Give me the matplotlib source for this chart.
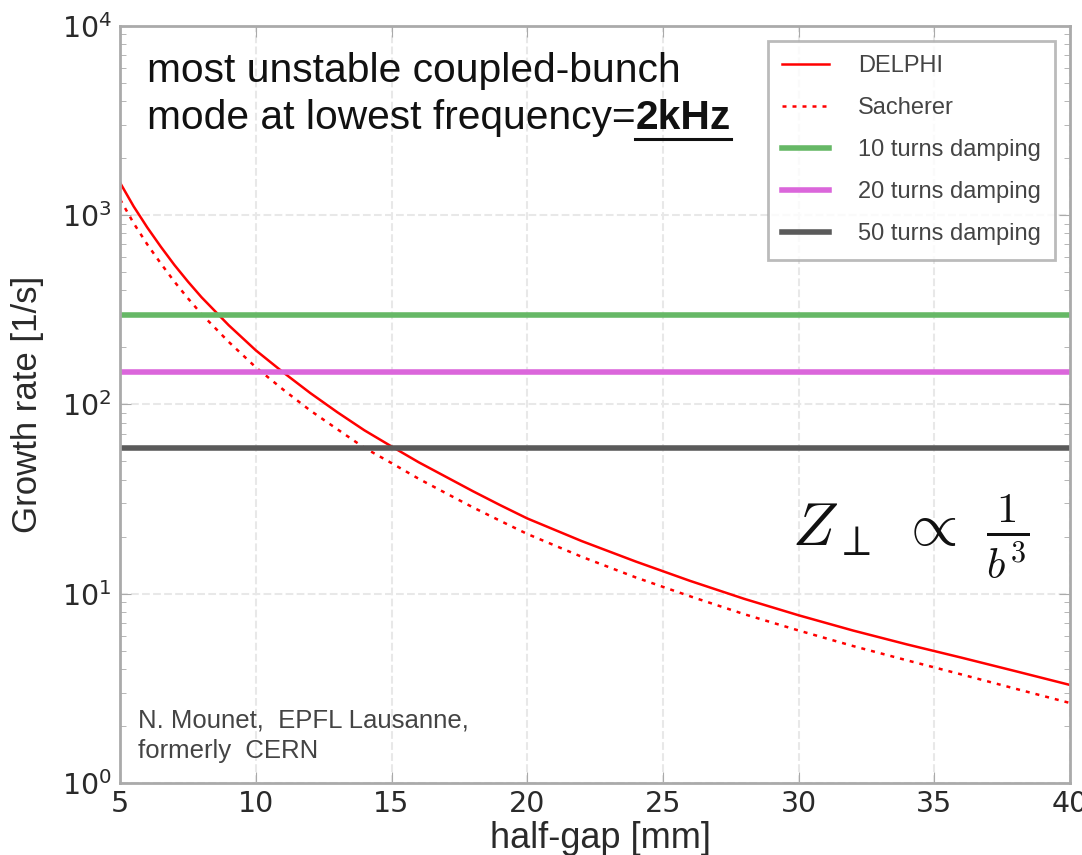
import numpy as np
import matplotlib
matplotlib.use('Agg')
import matplotlib.pyplot as plt

plt.rcParams['font.family'] = ['DejaVu Sans']
sans = 'Liberation Sans'

# values
half_gap = [5, 5.5, 6, 6.5, 7, 7.5, 8, 9, 10, 11, 12, 13, 14, 15, 16, 17, 18, 19, 20,
            22, 24, 26, 28, 30, 32, 34, 36, 38, 40]
delphi = [1480, 1110, 860, 680, 545, 445, 368, 262, 193, 148, 115, 91, 73, 60, 49.5, 41.5, 34.8, 29.4, 25.0,
          19.0, 14.8, 11.7, 9.4, 7.7, 6.4, 5.4, 4.6, 3.9, 3.3]
sacherer = [1210, 905, 700, 555, 445, 363, 300, 214, 157, 120, 93, 74, 59, 49, 40.5, 34, 28.6, 24.3, 20.7,
            15.7, 12.2, 9.7, 7.8, 6.4, 5.3, 4.45, 3.75, 3.15, 2.65]
damping_labels = ['10 turns damping', '20 turns damping', '50 turns damping']
damping_rates = [296, 148, 59]
damping_colors = ['#66b866', '#db66db', '#5a5a5a']

fig = plt.figure(figsize=(10.82, 8.55), dpi=100)
ax = fig.add_axes([0.111, 0.084, 0.878, 0.886])

ax.plot(half_gap, delphi, color='red', lw=1.8, label='DELPHI')
ax.plot(half_gap, sacherer, color='red', lw=1.8, ls=(0, (1.6, 2.4)), label='Sacherer')
for lab, rate, col in zip(damping_labels, damping_rates, damping_colors):
    ax.axhline(rate, color=col, lw=4, label=lab)

ax.set_yscale('log')
ax.set_xlim(5, 40)
ax.set_ylim(1, 1e4)
ax.grid(True, which='major', color='#e8e8e8', lw=1.5, ls='--')
ax.tick_params(which='both', direction='in', top=True, right=True, colors='#aaaaaa',
               labelcolor='#2a2a2a')
ax.tick_params(axis='y', labelsize=20.5, pad=6)
ax.tick_params(axis='x', labelsize=20.5, pad=5)
ax.tick_params(which='major', length=8)
ax.tick_params(which='minor', length=4)
for s in ax.spines.values():
    s.set_color('#aaaaaa')
    s.set_linewidth(2)

ax.set_xlabel('half-gap [mm]', fontsize=26, color='#2a2a2a', family=sans)
ax.set_ylabel('Growth rate [1/s]', fontsize=25, color='#2a2a2a', family=sans)
ax.xaxis.set_label_coords(0.506, -0.05)
ax.yaxis.set_label_coords(-0.08, 0.5)

leg = ax.legend(loc='upper right', prop={'family': sans, 'size': 17}, frameon=True,
                fancybox=False, borderpad=0.6, labelspacing=0.85, handlelength=2.0,
                handletextpad=1.2, borderaxespad=0.65)
leg.get_frame().set_edgecolor('#aaaaaa')
leg.get_frame().set_linewidth(2)
for t in leg.get_texts():
    t.set_color('#444444')

ax.text(0.028, 0.926, 'most unstable coupled-bunch', transform=ax.transAxes,
        fontsize=29.3, va='baseline', color='#111111', family=sans)
t2 = ax.text(0.028, 0.864, 'mode at lowest frequency=', transform=ax.transAxes,
             fontsize=29.3, va='baseline', color='#111111', family=sans)
fig.canvas.draw()
bb = t2.get_window_extent()
x1, _ = ax.transAxes.inverted().transform((bb.x1, bb.y1))
t3 = ax.text(x1, 0.864, '2kHz', transform=ax.transAxes, fontsize=29.3, va='baseline',
             fontweight='bold', color='#111111', family=sans)
fig.canvas.draw()
bb3 = t3.get_window_extent()
ux0, _ = ax.transAxes.inverted().transform((bb3.x0, bb3.y0))
ux1, _ = ax.transAxes.inverted().transform((bb3.x1, bb3.y0))
ax.plot([ux0, ux1], [0.851, 0.851], transform=ax.transAxes, color='#111111', lw=2.2)

ax.text(0.707, 0.315, r'$Z_{\perp}\ \propto\ \frac{1}{b^3}$', transform=ax.transAxes,
        fontsize=44, va='baseline', color='#111111', math_fontfamily='cm')
ax.text(0.019, 0.073, 'N. Mounet,  EPFL Lausanne,', transform=ax.transAxes,
        fontsize=18.5, va='baseline', color='#444444', family=sans)
ax.text(0.019, 0.033, 'formerly  CERN', transform=ax.transAxes,
        fontsize=18.5, va='baseline', color='#444444', family=sans)

fig.savefig('out.png', dpi=100)
